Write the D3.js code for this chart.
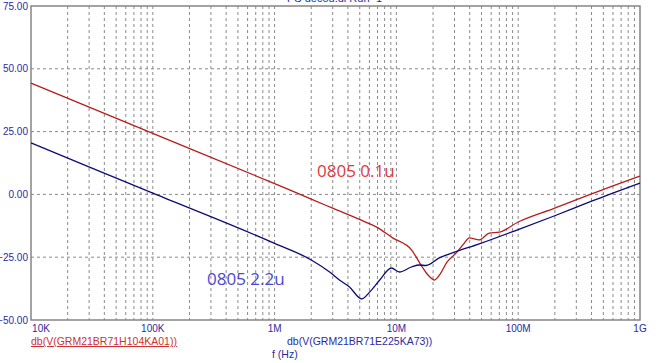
<!DOCTYPE html>
<html>
<head>
<meta charset="utf-8">
<script src="https://cdn.jsdelivr.net/npm/d3@7"></script>
<style>
  body { margin: 0; background: #fff; }
  svg { display: block; }
  text { font-family: "Liberation Sans", Arial, sans-serif; }
</style>
</head>
<body>
<div id="chart"></div>
<script>
// frequencies (Hz) and dB values
var freqRed = [1e4, 1e5, 1e6, 2e6, 3e6, 5.7e6, 7e6, 9.3e6, 13.3e6, 16.3e6, 18.5e6, 20.5e6, 23e6, 26e6, 31e6, 36e6, 39.6e6, 47.9e6, 57.8e6, 70e6, 100e6, 197e6, 405e6, 1e9];
var dbRed   = [44.3, 24.3, 4.3, -1.9, -5.5, -11.2, -13.2, -17.3, -22.1, -28.9, -32.5, -34.1, -31.5, -27, -23.3, -19.5, -17.3, -18.1, -15.4, -15.0, -11.0, -5.6, 0.3, 7.3];

var freqBlue = [1e4, 1e5, 1e6, 2e6, 2.83e6, 3.5e6, 4.1e6, 5.2e6, 6e6, 7.3e6, 9.1e6, 10.6e6, 13.3e6, 15.4e6, 17.5e6, 22.5e6, 28.8e6, 47.9e6, 100e6, 197e6, 405e6, 1e9];
var dbBlue   = [20.5, 0.5, -19.5, -26.1, -30.9, -34.5, -36.8, -41.6, -39, -34.1, -29.3, -30.9, -28.9, -28.1, -28.3, -25.3, -23.3, -19.7, -14.0, -8.6, -2.6, 4.5];

var yTicks = [-50, -25, 0, 25, 50, 75];
var xTicks = [1e4, 1e5, 1e6, 1e7, 1e8, 1e9];
var xTickLabels = ["10K", "100K", "1M", "10M", "100M", "1G"];

var width = 664, height = 363;
var margin = {top: 6, right: 24, bottom: 43, left: 31};

var svg = d3.select("#chart").append("svg")
    .attr("width", width)
    .attr("height", height);

var x = d3.scaleLog()
    .domain([1e4, 1e9])
    .range([margin.left, width - margin.right]);

var y = d3.scaleLinear()
    .domain([-50, 75])
    .range([height - margin.bottom, margin.top]);

// grid: every 1..9 x decade
var minor = [];
for (var e = 4; e < 9; e++) {
  for (var m = 2; m <= 10; m++) minor.push(m * Math.pow(10, e));
}
minor.pop();

svg.append("g").selectAll("line")
    .data(minor)
  .enter().append("line")
    .attr("x1", function(d) { return x(d); })
    .attr("x2", function(d) { return x(d); })
    .attr("y1", y(75))
    .attr("y2", y(-50))
    .attr("stroke", "#8a8a8a")
    .attr("stroke-width", 1)
    .attr("stroke-dasharray", "3,3");

svg.append("g").selectAll("line")
    .data(yTicks.slice(1, -1))
  .enter().append("line")
    .attr("x1", x(1e4))
    .attr("x2", x(1e9))
    .attr("y1", function(d) { return y(d); })
    .attr("y2", function(d) { return y(d); })
    .attr("stroke", "#8a8a8a")
    .attr("stroke-width", 1)
    .attr("stroke-dasharray", "3,3");

// frame
svg.append("rect")
    .attr("x", x(1e4))
    .attr("y", y(75))
    .attr("width", x(1e9) - x(1e4))
    .attr("height", y(-50) - y(75))
    .attr("fill", "none")
    .attr("stroke", "#858585")
    .attr("stroke-width", 1.5);

// y tick labels
svg.append("g").selectAll("text")
    .data(yTicks)
  .enter().append("text")
    .attr("x", margin.left - 3)
    .attr("y", function(d) { return y(d); })
    .attr("dy", "0.35em")
    .attr("text-anchor", "end")
    .attr("fill", "#2b2ba0")
    .style("font-size", "10px")
    .text(function(d) { return d3.format(".2f")(d); });

// x tick labels
svg.append("g").selectAll("text")
    .data(xTicks)
  .enter().append("text")
    .attr("x", function(d, i) { return i == 0 ? x(d) + 10 : x(d); })
    .attr("y", y(-50) + 12)
    .attr("text-anchor", "middle")
    .attr("fill", "#2b2ba0")
    .style("font-size", "10px")
    .text(function(d, i) { return xTickLabels[i]; });

var line = d3.line()
    .x(function(d) { return x(d[0]); })
    .y(function(d) { return y(d[1]); })
    .curve(d3.curveMonotoneX);

svg.append("path")
    .datum(d3.zip(freqRed, dbRed))
    .attr("fill", "none")
    .attr("stroke", "#b81c1c")
    .attr("stroke-width", 1.3)
    .attr("d", line);

svg.append("path")
    .datum(d3.zip(freqBlue, dbBlue))
    .attr("fill", "none")
    .attr("stroke", "#0c0c78")
    .attr("stroke-width", 1.3)
    .attr("d", line);

// annotations
svg.append("text")
    .attr("x", 317)
    .attr("y", 177)
    .attr("fill", "#e03a3a")
    .style("font-family", "'Open Sans', sans-serif")
    .style("font-size", "17px")
    .text("0805 0.1u");

svg.append("text")
    .attr("x", 207)
    .attr("y", 285)
    .attr("fill", "#4a4ad0")
    .style("font-family", "'Open Sans', sans-serif")
    .style("font-size", "17px")
    .text("0805 2.2u");

// title, clipped at top
svg.append("text")
    .attr("x", 287)
    .attr("y", 2)
    .attr("fill", "#2b2ba0")
    .style("font-size", "11px")
    .text("PS decou.dl Run=1");

// legend
svg.append("text")
    .attr("x", 31)
    .attr("y", 345)
    .attr("fill", "#d03030")
    .attr("text-decoration", "underline")
    .style("font-size", "10.5px")
    .text("db(V(GRM21BR71H104KA01))");

svg.append("text")
    .attr("x", 287)
    .attr("y", 345)
    .attr("fill", "#2b2ba0")
    .style("font-size", "10.5px")
    .text("db(V(GRM21BR71E225KA73))");

svg.append("text")
    .attr("x", 272)
    .attr("y", 358)
    .attr("fill", "#2b2ba0")
    .style("font-size", "10.5px")
    .text("f (Hz)");
</script>
</body>
</html>
